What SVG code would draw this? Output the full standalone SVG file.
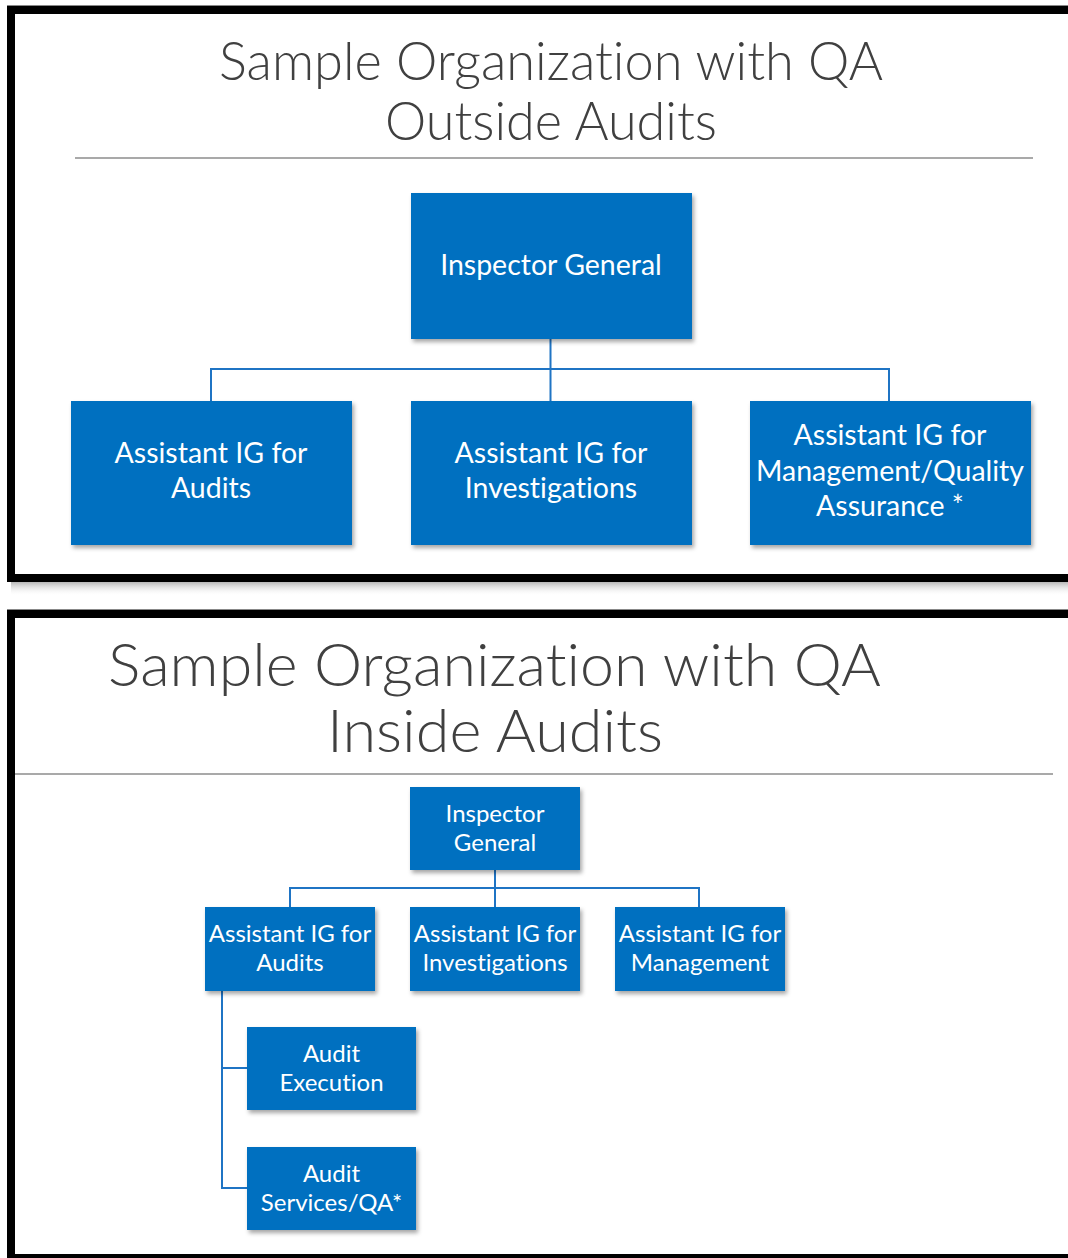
<svg xmlns="http://www.w3.org/2000/svg" width="1068" height="1258" viewBox="0 0 1068 1258">
<defs>
<style>
text{font-variant-ligatures:none}
.frame{fill:none;stroke:#000;stroke-width:8}
.title{font-family:Lato,"Open Sans",sans-serif;font-weight:300;fill:#404040;text-anchor:middle}
.box{fill:#0070C0;filter:url(#sh)}
.lbl{font-family:Lato,"Open Sans",sans-serif;fill:#fff;text-anchor:middle}
.l1{font-size:28.5px}
.l2{font-size:24px}
.conn{fill:none;stroke:#1F74C4;stroke-width:2}
.rule{stroke:#8c8c8c;stroke-width:1.5}
</style>
<filter id="sh" x="-10%" y="-10%" width="130%" height="130%">
<feDropShadow dx="2" dy="3" stdDeviation="2" flood-color="#000" flood-opacity="0.35"/>
</filter>
<linearGradient id="pshadow" x1="0" y1="0" x2="0" y2="1">
<stop offset="0" stop-color="#888" stop-opacity="0.6"/>
<stop offset="1" stop-color="#fff" stop-opacity="0"/>
</linearGradient>
</defs>
<rect width="1068" height="1258" fill="#fff"/>

<!-- top panel -->
<rect x="11" y="582" width="1060" height="14" fill="url(#pshadow)"/>
<line x1="7" y1="5.5" x2="1068" y2="5.5" stroke="#888" stroke-width="1"/>
<rect class="frame" x="11" y="10" width="1100" height="568"/>
<text class="title" x="551" y="80" font-size="53" textLength="664" lengthAdjust="spacingAndGlyphs">Sample Organization with QA</text>
<text class="title" x="551" y="140" font-size="53" textLength="332" lengthAdjust="spacingAndGlyphs">Outside Audits</text>
<line class="rule" x1="75" y1="158" x2="1033" y2="158"/>

<g id="connectors-top">
<path class="conn" d="M550.5 339 V401 M211 401 V369 H889 V401"/>
</g>
<g id="t-ig">
<rect class="box" x="411" y="193" width="281" height="146"/>
<text class="lbl l1" x="551" y="275">Inspector General</text>
</g>
<g id="t-audits">
<rect class="box" x="71" y="401" width="281" height="144"/>
<text class="lbl l1" x="211" y="463">Assistant IG for</text>
<text class="lbl l1" x="211" y="498">Audits</text>
</g>
<g id="t-invest">
<rect class="box" x="411" y="401" width="281" height="144"/>
<text class="lbl l1" x="551" y="463">Assistant IG for</text>
<text class="lbl l1" x="551" y="498">Investigations</text>
</g>
<g id="t-mgmt">
<rect class="box" x="750" y="401" width="281" height="144"/>
<text class="lbl l1" x="890" y="445">Assistant IG for</text>
<text class="lbl l1" x="890" y="481">Management/Quality</text>
<text class="lbl l1" x="890" y="516">Assurance *</text>
</g>

<!-- bottom panel -->
<line x1="7" y1="609.5" x2="1068" y2="609.5" stroke="#888" stroke-width="1"/>
<rect class="frame" x="11" y="614" width="1100" height="644"/>
<text class="title" x="494.5" y="686" font-size="60" textLength="773" lengthAdjust="spacingAndGlyphs">Sample Organization with QA</text>
<text class="title" x="495" y="752" font-size="60" textLength="336" lengthAdjust="spacingAndGlyphs">Inside Audits</text>
<line class="rule" x1="15" y1="774" x2="1053" y2="774"/>

<g id="connectors-bottom">
<path class="conn" d="M495 870 V907 M290 907 V888 H699 V907"/>
<path class="conn" d="M222 991 V1188 H247 M222 1068 H247"/>
</g>
<g id="b-ig">
<rect class="box" x="410" y="787" width="170" height="83"/>
<text class="lbl l2" x="495" y="822">Inspector</text>
<text class="lbl l2" x="495" y="851">General</text>
</g>
<g id="b-audits">
<rect class="box" x="205" y="907" width="170" height="84"/>
<text class="lbl l2" x="290" y="942">Assistant IG for</text>
<text class="lbl l2" x="290" y="971">Audits</text>
</g>
<g id="b-invest">
<rect class="box" x="410" y="907" width="170" height="84"/>
<text class="lbl l2" x="495" y="942">Assistant IG for</text>
<text class="lbl l2" x="495" y="971">Investigations</text>
</g>
<g id="b-mgmt">
<rect class="box" x="615" y="907" width="170" height="84"/>
<text class="lbl l2" x="700" y="942">Assistant IG for</text>
<text class="lbl l2" x="700" y="971">Management</text>
</g>
<g id="b-exec">
<rect class="box" x="247" y="1027" width="169" height="83"/>
<text class="lbl l2" x="331.5" y="1062">Audit</text>
<text class="lbl l2" x="331.5" y="1091">Execution</text>
</g>
<g id="b-qa">
<rect class="box" x="247" y="1147" width="169" height="83"/>
<text class="lbl l2" x="331.5" y="1182">Audit</text>
<text class="lbl l2" x="331.5" y="1211">Services/QA*</text>
</g>
</svg>
